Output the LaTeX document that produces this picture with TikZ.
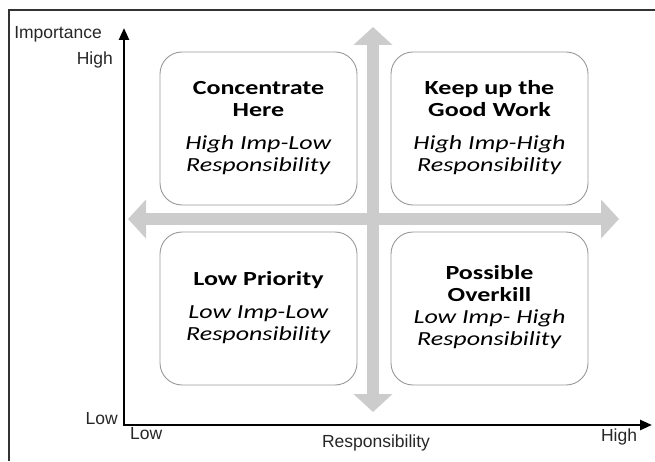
\documentclass[tikz,border=0pt]{standalone}
\usepackage{fontspec}
\setmainfont{Carlito}
\newfontfamily\axisfont{Liberation Sans}
\usetikzlibrary{arrows.meta,positioning}
\newcommand{\wide}[1]{\scalebox{1.3}[1]{\begin{tabular}{@{}c@{}}#1\end{tabular}}}

\begin{document}
\begin{tikzpicture}[x=1pt,y=1pt,
	quad/.style={draw=gray!80,line width=0.9pt,rounded corners=22pt,fill=white,
		minimum width=197pt,minimum height=153pt,inner sep=0pt,
		font=\fontsize{20}{22}\selectfont},
	axislabel/.style={font=\axisfont\fontsize{17.5}{20}\selectfont,text=black!85,inner sep=0pt},
	cross/.style={line width=12pt,draw=gray!40,
		{Triangle[length=18pt,width=38pt]}-{Triangle[length=18pt,width=38pt]}},
	axis/.style={line width=2.5pt,
		{Triangle[length=12pt,width=10pt]}-{Triangle[length=12pt,width=10pt]}}]
	\useasboundingbox (0,0) rectangle (655,461);
	\draw[line width=2.5pt,black!80] (9,0) -- (9,451) -- (655,451);

	\coordinate (N) at (373,434);
	\coordinate (S) at (373,49);
	\coordinate (W) at (128,242);
	\coordinate (E) at (619,242);
	\draw[cross] (S) -- (N);
	\draw[cross] (W) -- (E);

	\node[quad] at (258.5,332.5) (hilo) {\wide{\textbf{Concentrate}\\\textbf{Here}\\[11pt]\textit{High Imp-Low}\\\textit{Responsibility}}};
	\node[quad] at (489.5,332.5) (hihi) {\wide{\textbf{Keep up the}\\\textbf{Good Work}\\[11pt]\textit{High Imp-High}\\\textit{Responsibility}}};
	\node[quad] at (258.5,152.5) (lolo) {\wide{\textbf{Low Priority}\\[11pt]\textit{Low Imp-Low}\\\textit{Responsibility}}};
	\node[quad] at (489.5,152.5) (lohi) {\wide{\textbf{Possible}\\\textbf{Overkill}\\\textit{Low Imp- High}\\\textit{Responsibility}}};

	\coordinate (O) at (124,36);
	\coordinate (Yend) at (124,433);
	\coordinate (Xend) at (652,36);
	\draw[axis] (Yend) -- (O) -- (Xend);

	\node[axislabel,anchor=east] at (102,427) (imp) {Importance};
	\node[axislabel,anchor=east] at (113,401) (yhigh) {High};
	\node[axislabel,anchor=east] at (118,42) (ylow) {Low};
	\node[axislabel,anchor=west] at (130,27) (xlow) {Low};
	\node[axislabel] at (376,18) (resp) {Responsibility};
	\node[axislabel] at (619,24) (xhigh) {High};
\end{tikzpicture}
\end{document}
